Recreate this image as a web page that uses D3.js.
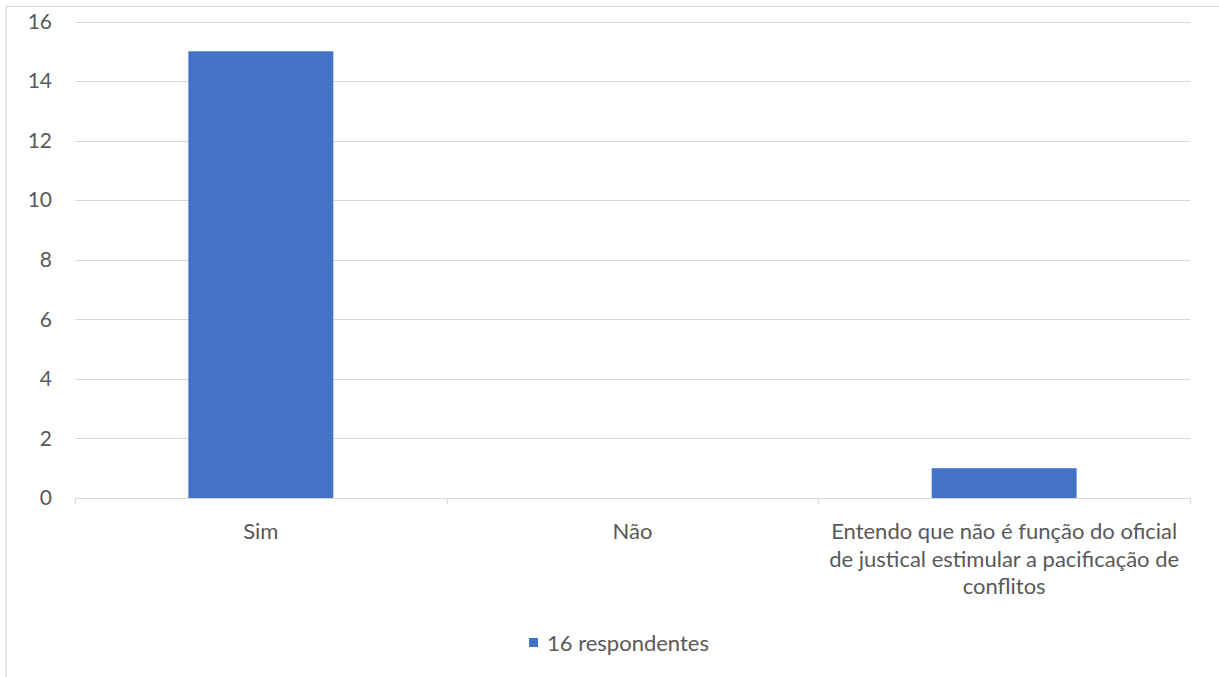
<!DOCTYPE html>
<html><head><meta charset="utf-8">
<script src="https://cdn.jsdelivr.net/npm/d3@7"></script>
<style>
html,body{margin:0;padding:0;background:#fff;}
svg{display:block;}
text{font-family:Lato,"Open Sans",sans-serif;fill:#595959;}
</style></head>
<body>
<svg id="chart" width="1219" height="677"></svg>
<script>
const categories = ["Sim", "Não", "Entendo que não é função do oficial de justical estimular a pacificação de conflitos"];
const values = [15, 0, 1];
const yTicks = [0, 2, 4, 6, 8, 10, 12, 14, 16];
const seriesName = "16 respondentes";

const svg = d3.select("#chart");
const m = {left: 75, right: 1190, top: 21.5, bottom: 498};

// chart border
svg.append("rect").attr("x", 6).attr("y", 6.5).attr("width", 1240).attr("height", 700)
  .attr("fill", "none").attr("stroke", "#d9d9d9").attr("stroke-width", 1.2);

const x = d3.scaleBand().domain(categories).range([m.left, m.right]).padding(0);
const y = d3.scaleLinear().domain([0, 16]).range([m.bottom, m.top]);

// gridlines
svg.append("g").selectAll("line").data(yTicks.filter(d => d > 0)).join("line")
  .attr("x1", m.left).attr("x2", m.right)
  .attr("y1", d => Math.round(y(d)) + 0.5).attr("y2", d => Math.round(y(d)) + 0.5)
  .attr("stroke", "#d9d9d9").attr("stroke-width", 1);

// y labels
const yAxis = d3.axisLeft(y).tickValues(yTicks).tickSize(0).tickPadding(23);
const gy = svg.append("g").attr("transform", `translate(${m.left},0)`).call(yAxis);
gy.select(".domain").remove();
gy.selectAll("text").attr("font-size", 21).attr("fill", "#595959").attr("font-family", "Lato");

// bars
const bw = x.bandwidth() * 0.39;
svg.append("g").selectAll("rect").data(categories).join("rect")
  .attr("x", d => x(d) + (x.bandwidth() - bw) / 2)
  .attr("width", bw)
  .attr("y", (d, i) => y(values[i]))
  .attr("height", (d, i) => y(0) - y(values[i]))
  .attr("fill", "#4472c4");

// x axis
const gx = svg.append("g").attr("transform", `translate(0,${m.bottom})`);
gx.append("line").attr("x1", m.left).attr("x2", m.right).attr("y1", 0.5).attr("y2", 0.5)
  .attr("stroke", "#d9d9d9").attr("stroke-width", 1.2);
const bounds = categories.map(c => x(c)).concat([m.right]);
gx.selectAll("line.tick").data(bounds).join("line").attr("class", "tick")
  .attr("x1", d => Math.round(d) + 0.5).attr("x2", d => Math.round(d) + 0.5)
  .attr("y1", 0).attr("y2", 6).attr("stroke", "#d9d9d9").attr("stroke-width", 1.2);

// x labels with wrapping
const maxW = x.bandwidth() - 10;
categories.forEach(c => {
  const t = gx.append("text").attr("x", x(c) + x.bandwidth() / 2).attr("y", 41)
    .attr("text-anchor", "middle").attr("font-size", 22);
  const words = c.split(" ");
  let lines = [], line = [];
  const probe = t.append("tspan");
  words.forEach(w => {
    line.push(w);
    probe.text(line.join(" "));
    if (probe.node().getComputedTextLength() > maxW && line.length > 1) {
      line.pop(); lines.push(line.join(" ")); line = [w];
    }
  });
  lines.push(line.join(" "));
  probe.remove();
  lines.forEach((l, i) => t.append("tspan").attr("x", x(c) + x.bandwidth() / 2)
    .attr("dy", i === 0 ? 0 : 27.5).text(l));
});

// legend
const lg = svg.append("g");
lg.append("rect").attr("x", 529).attr("y", 638).attr("width", 9).attr("height", 9).attr("fill", "#4472c4");
lg.append("text").attr("x", 547).attr("y", 651).attr("font-size", 22).text(seriesName);
</script>
</body></html>
